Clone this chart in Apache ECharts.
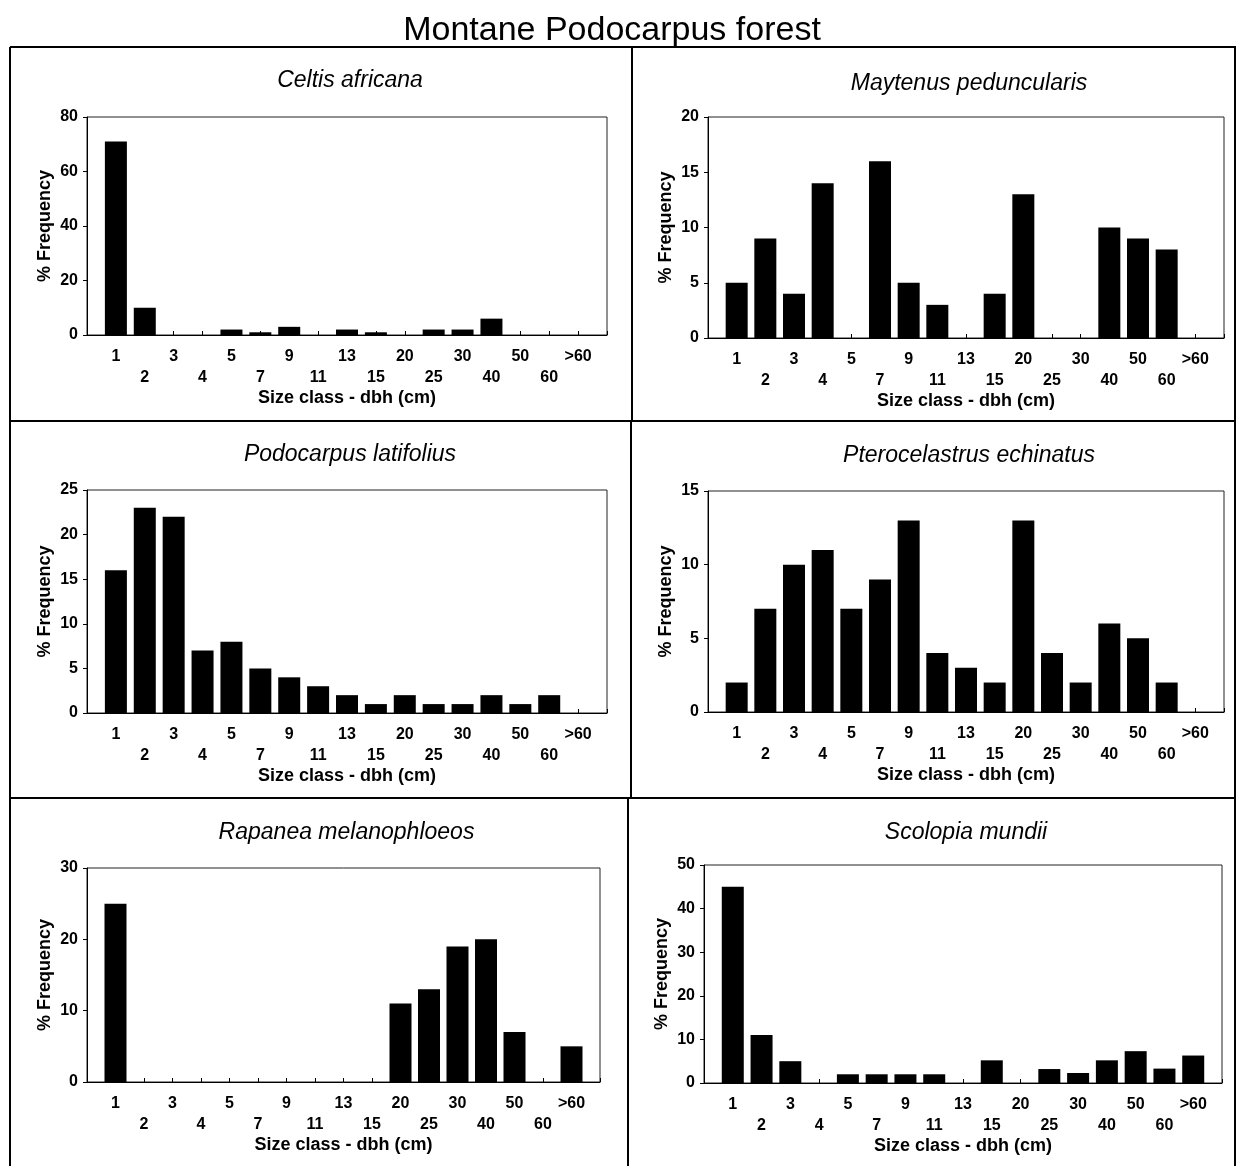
<!DOCTYPE html>
<html>
<head>
<meta charset="utf-8">
<script src="https://cdn.jsdelivr.net/npm/echarts@6/dist/echarts.min.js"></script>
<style>
html,body{margin:0;padding:0;background:#fff;}
#chart{width:1237px;height:1166px;}
</style>
</head>
<body>
<div id="chart"></div>
<script>
// ---- data ----
const sizeClasses = ['1','2','3','4','5','7','9','11','13','15','20','25','30','40','50','60','>60'];
const panelTitles = ['Celtis africana','Maytenus peduncularis','Podocarpus latifolius','Pterocelastrus echinatus','Rapanea melanophloeos','Scolopia mundii'];
const celtis        = [71,10,0,0,2,1,3,0,2,1,0,2,2,6,0,0,0];
const maytenus      = [5,9,4,14,0,16,5,3,0,4,13,0,0,10,9,8,0];
const podocarpus    = [16,23,22,7,8,5,4,3,2,1,2,1,1,2,1,2,0];
const pterocelastrus= [2,7,10,11,7,9,13,4,3,2,13,4,2,6,5,2,0];
const rapanea       = [25,0,0,0,0,0,0,0,0,0,11,13,19,20,7,0,5];
const scolopia      = [45,11,5,0,2,2,2,2,0,5.2,0,3.2,2.3,5.2,7.3,3.3,6.3];
const yMax  = [80,20,25,15,30,50];
const yStep = [20,5,5,5,10,10];
const mainTitle = 'Montane Podocarpus forest';
const xName = 'Size class - dbh (cm)';
const yName = '% Frequency';

const seriesValues = [celtis, maytenus, podocarpus, pterocelastrus, rapanea, scolopia];

// ---- layout (px) ----
const grids = [
  {left:87,  top:117, width:520, height:218},
  {left:708, top:117, width:516, height:221},
  {left:87,  top:490, width:520, height:223},
  {left:708, top:491, width:516, height:221},
  {left:87,  top:868, width:513, height:214},
  {left:704, top:865, width:518, height:218}
];
const titleY = [64, 67, 438, 439, 816, 816];

const FONT = '"Liberation Sans", Arial, sans-serif';

const option = {
  animation:false,
  backgroundColor:'#fff',
  textStyle:{fontFamily:FONT, color:'#000'},
  title: [{
    text: mainTitle, left: 607, top: 9, textAlign:'center',
    textStyle:{fontFamily:FONT, fontSize:34, fontWeight:'normal', color:'#000'}
  }].concat(panelTitles.map((t,i)=>({
    text:t, left: grids[i].left + grids[i].width/2 - 2, top: titleY[i], textAlign:'center',
    textStyle:{fontFamily:FONT, fontSize:23, fontStyle:'italic', fontWeight:'normal', color:'#000'}
  }))),
  grid: grids.map(g=>Object.assign({show:true, borderColor:'#222', borderWidth:1, backgroundColor:'transparent'}, g)),
  xAxis: grids.map((g,i)=>({
    type:'value', gridIndex:i, min:0, max:sizeClasses.length+1, interval:1,
    name:xName, nameLocation:'middle', nameGap:54,
    nameTextStyle:{fontFamily:FONT, fontSize:18, fontWeight:'bold', color:'#000'},
    axisLine:{show:true, lineStyle:{color:'#000', width:1}},
    axisTick:{show:true, inside:true, length:4, lineStyle:{color:'#000'}},
    splitLine:{show:false},
    axisLabel:{
      fontFamily:FONT, fontSize:16, fontWeight:'bold', color:'#000', margin:11, lineHeight:21,
      formatter:function(v){
        const k = Math.round(v)-1;
        if (k<0 || k>=sizeClasses.length) return '';
        return (k%2) ? '\n'+sizeClasses[k] : sizeClasses[k];
      }
    }
  })),
  yAxis: grids.map((g,i)=>({
    type:'value', gridIndex:i, min:0, max:yMax[i], interval:yStep[i],
    name:yName, nameLocation:'middle', nameGap:33,
    nameTextStyle:{fontFamily:FONT, fontSize:18, fontWeight:'bold', color:'#000'},
    axisLine:{show:true, lineStyle:{color:'#000', width:1}},
    axisTick:{show:true, inside:false, length:4, lineStyle:{color:'#000'}},
    splitLine:{show:false},
    axisLabel:{fontFamily:FONT, fontSize:16, fontWeight:'bold', color:'#000', margin:9}
  })),
  series: seriesValues.map((vals,i)=>({
    type:'bar', xAxisIndex:i, yAxisIndex:i,
    data: vals.map((v,k)=>[k+1, v]),
    barWidth:22,
    itemStyle:{color:'#000'}
  })),
  graphic: [
    {type:'line', shape:{x1:10,y1:47,x2:1236,y2:47}, style:{stroke:'#000', lineWidth:2}},
    {type:'line', shape:{x1:10,y1:421,x2:1236,y2:421}, style:{stroke:'#000', lineWidth:2}},
    {type:'line', shape:{x1:10,y1:798,x2:1236,y2:798}, style:{stroke:'#000', lineWidth:2}},
    {type:'line', shape:{x1:10,y1:47,x2:10,y2:1166}, style:{stroke:'#000', lineWidth:2}},
    {type:'line', shape:{x1:1235,y1:47,x2:1235,y2:1166}, style:{stroke:'#000', lineWidth:2}},
    {type:'line', shape:{x1:632,y1:47,x2:632,y2:421}, style:{stroke:'#000', lineWidth:2}},
    {type:'line', shape:{x1:631,y1:421,x2:631,y2:798}, style:{stroke:'#000', lineWidth:2}},
    {type:'line', shape:{x1:628,y1:798,x2:628,y2:1166}, style:{stroke:'#000', lineWidth:2}}
  ]
};

const chart = echarts.init(document.getElementById('chart'), null, {renderer:'canvas'});
chart.setOption(option);
</script>
</body>
</html>
